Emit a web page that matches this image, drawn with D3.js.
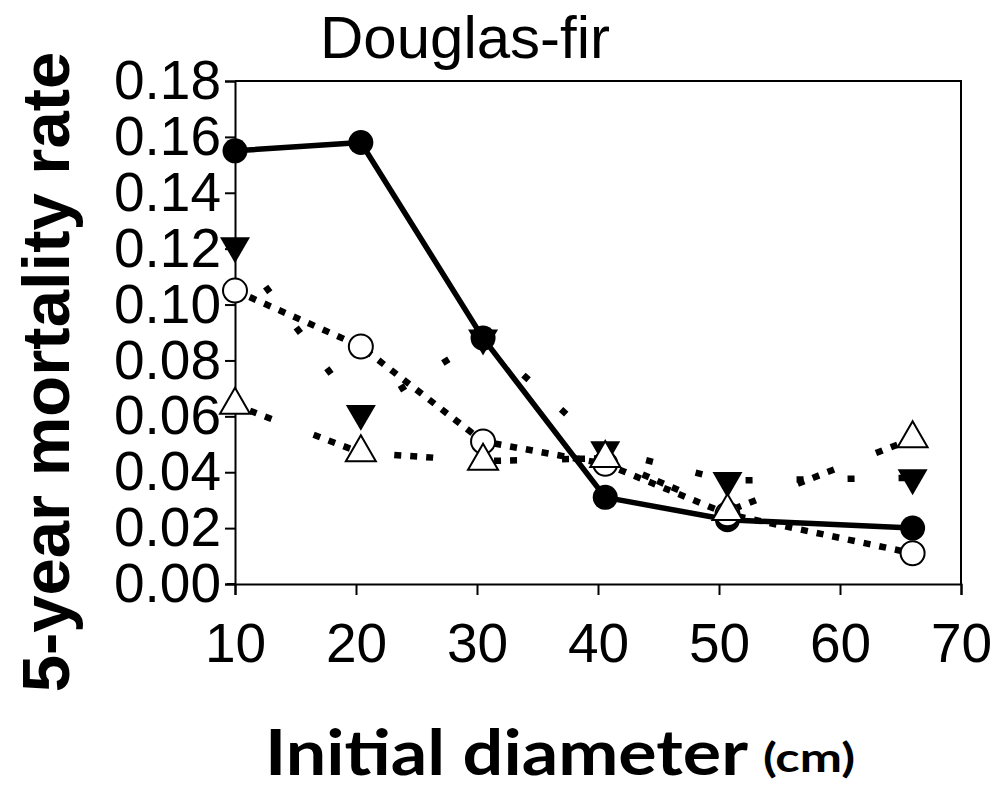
<!DOCTYPE html>
<html>
<head>
<meta charset="utf-8">
<script src="https://cdn.jsdelivr.net/npm/d3@7"></script>
<style>
  html, body { margin: 0; padding: 0; background: #fff; }
  svg { display: block; }
</style>
</head>
<body>
<svg id="chart" width="992" height="790"></svg>
<script>
// ---- data ----
const diameters = [10, 20.4, 30.5, 40.6, 50.7, 66];
const filledCircle = [0.155, 0.158, 0.088, 0.031, 0.023, 0.020];
const openCircle   = [0.105, 0.085, 0.051, 0.043, 0.025, 0.011];
const downTriangle = [0.121, 0.061, 0.088, 0.048, 0.037, 0.038];
const upTriangle   = [0.064, 0.047, 0.044, 0.045, 0.026, 0.052];
const xTicks = [10, 20, 30, 40, 50, 60, 70];
const yTicks = [0, 0.02, 0.04, 0.06, 0.08, 0.10, 0.12, 0.14, 0.16, 0.18];
const titleText = "Douglas-fir";
const yTitle = "5-year mortality rate";
const xTitle = "Initial diameter";
const xUnit = "(cm)";

const svg = d3.select("#chart");
const x = d3.scaleLinear().domain([10, 70]).range([235, 961]);
const y = d3.scaleLinear().domain([0, 0.18]).range([584, 81]);

// frame (top & right borders)
svg.append("path")
  .attr("d", `M${x(10)},${y(0.18)}H${x(70)}V${y(0)}`)
  .attr("fill", "none").attr("stroke", "#000").attr("stroke-width", 2);

// y axis
const yAxis = svg.append("g").attr("transform", `translate(${x(10)},0)`)
  .call(d3.axisLeft(y).tickValues(yTicks).tickFormat(d3.format(".2f")).tickSize(10).tickPadding(4));
// x axis
const xAxis = svg.append("g").attr("transform", `translate(0,${y(0)})`)
  .call(d3.axisBottom(x).tickValues(xTicks).tickFormat(d3.format("d")).tickSize(11).tickPadding(28));
[yAxis, xAxis].forEach(g => {
  g.select(".domain").attr("stroke-width", 2).attr("stroke", "#000");
  g.selectAll(".tick line").attr("stroke-width", 2).attr("stroke", "#000");
  g.selectAll("text").attr("font-family", "Liberation Sans, Arial, sans-serif")
    .attr("font-size", 55).attr("fill", "#000");
});
// extend x-axis line left like the reference
svg.append("line").attr("x1", x(10) - 8).attr("x2", x(10)).attr("y1", y(0)).attr("y2", y(0))
  .attr("stroke", "#000").attr("stroke-width", 2);

const series = [
  {vals: filledCircle, dash: null, marker: "fcircle"},
  {vals: downTriangle, dash: "7,44", marker: "dtri"},
  {vals: openCircle, dash: "7,9", marker: "ocircle"},
  {vals: upTriangle, dash: "7,9,7,9,7,45", marker: "utri"}
];

const line = d3.line().x(d => x(d[0])).y(d => y(d[1]));

// dotted lines first, solid on top
[1, 2, 3, 0].forEach(i => {
  const s = series[i];
  const pts = diameters.map((d, k) => [d, s.vals[k]]);
  svg.append("path").datum(pts).attr("d", line)
    .attr("fill", "none").attr("stroke", "#000")
    .attr("stroke-width", s.dash ? 6.5 : 5.5)
    .attr("stroke-dasharray", s.dash)
    .attr("stroke-linecap", "butt")
    .attr("stroke-linejoin", "round");
});

// markers
const triUp = d3.symbol().type(d3.symbolTriangle).size(390);
series.forEach(s => {
  const g = svg.append("g");
  diameters.forEach((d, k) => {
    const cx = x(d), cy = y(s.vals[k]);
    if (s.marker === "fcircle") {
      g.append("circle").attr("cx", cx).attr("cy", cy).attr("r", 12.5).attr("fill", "#000");
    } else if (s.marker === "ocircle") {
      g.append("circle").attr("cx", cx).attr("cy", cy).attr("r", 12).attr("fill", "#fff")
        .attr("stroke", "#000").attr("stroke-width", 2);
    } else if (s.marker === "dtri") {
      g.append("path").attr("d", triUp()).attr("transform", `translate(${cx},${cy}) rotate(180)`)
        .attr("fill", "#000");
    } else {
      g.append("path").attr("d", triUp()).attr("transform", `translate(${cx},${cy})`)
        .attr("fill", "#fff").attr("stroke", "#000").attr("stroke-width", 2);
    }
  });
});

// title
svg.append("text").attr("x", 465).attr("y", 58).attr("text-anchor", "middle")
  .attr("font-family", "Liberation Sans, Arial, sans-serif").attr("font-size", 60)
  .text(titleText);

// y title
svg.append("text").attr("transform", "translate(69,372) rotate(-90)")
  .attr("text-anchor", "middle")
  .attr("font-family", "Liberation Sans, Arial, sans-serif").attr("font-weight", "bold")
  .attr("font-size", 67).text(yTitle);

// x title
svg.append("text").attr("x", 265).attr("y", 775)
  .attr("font-family", "Lato, 'Open Sans', sans-serif").attr("font-weight", "bold")
  .attr("font-size", 63).attr("textLength", 483).attr("lengthAdjust", "spacingAndGlyphs")
  .text(xTitle);
svg.append("text").attr("x", 763).attr("y", 772)
  .attr("font-family", "Lato, 'Open Sans', sans-serif").attr("font-weight", "bold")
  .attr("font-size", 41).attr("textLength", 92).attr("lengthAdjust", "spacingAndGlyphs")
  .text(xUnit);
</script>
</body>
</html>
